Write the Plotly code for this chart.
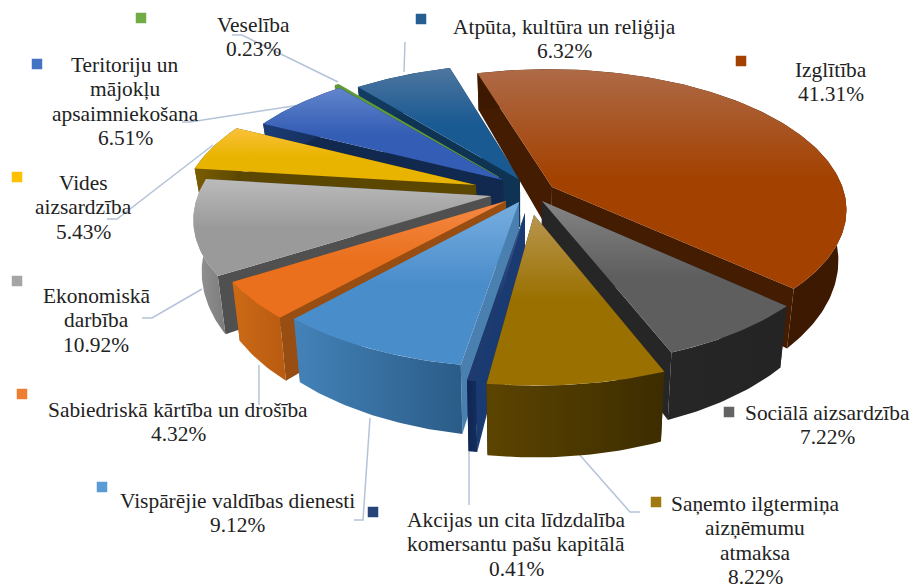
import math
import plotly.graph_objects as go

categories = ["Izglītība", "Sociālā aizsardzība", "Saņemto ilgtermiņa aizņēmumu atmaksa",
              "Akcijas un cita līdzdalība komersantu pašu kapitālā", "Vispārējie valdības dienesti",
              "Sabiedriskā kārtība un drošība", "Ekonomiskā darbība", "Vides aizsardzība",
              "Teritoriju un mājokļu apsaimniekošana", "Veselība", "Atpūta, kultūra un reliģija"]
values = [41.31, 7.22, 8.22, 0.41, 9.12, 4.32, 10.92, 5.43, 6.51, 0.23, 6.32]

# styles: top gradient (back, front), radial wall, rim wall gradient (left, right)
top_a = ["#AE6A47", "#858585", "#B8964F", "#44588A", "#78AEE0", "#F48A45", "#BBBBBB", "#FAC23A", "#6285CC", "#8CBF68", "#4E769F"]
top_b = ["#A34100", "#5E5E5E", "#9A7000", "#1E3B70", "#4A8DCB", "#EA701D", "#9A9A9A", "#E9B400", "#345DB5", "#5F9A38", "#1A5A92"]
side = ["#431C02", "#262626", "#2A2A2A", "#1A3A72", "#4A80AF", "#984E12", "#505050", "#5C4700", "#12294F", "#2E5418", "#0F3353"]
rim_a = ["#3C1900", "#262626", "#5C4400", "#0F2550", "#4382B8", "#CC6A16", "#959595", "#7A5D00", "#1C3D78", "#38601F", "#123C62"]
rim_b = ["#3C1900", "#242424", "#3C2C00", "#142E5E", "#2B5C88", "#B85A10", "#7C7C7C", "#5C4700", "#12294F", "#2E5418", "#0F3353"]
outline = [0, 0, 0, 0, 0, 0, 0, 0, 0, 3, 0]
# where each exploded slice's point sits on the page
apex_x = [552, 542, 534, 525, 519, 506, 491, 476, 503, 498, 520]
apex_y = [187, 201, 215, 213, 202, 201, 196, 185, 180, 178, 180]

# pie geometry
start_deg = -16.3
cx, cy, Rx, T, k, D, shrink = 525, 195, 293, 138, 0.152, 49, 0.975

# label text, centred, one line per row
label_lines = [["Izglītība"], ["Sociālā aizsardzība"], ["Saņemto ilgtermiņa", "aizņēmumu", "atmaksa"],
               ["Akcijas un cita līdzdalība", "komersantu pašu kapitālā"], ["Vispārējie valdības dienesti"],
               ["Sabiedriskā kārtība un drošība"], ["Ekonomiskā", "darbība"], ["Vides", "aizsardzība"],
               ["Teritoriju un", "mājokļu", "apsaimniekošana"], ["Veselība"], ["Atpūta, kultūra un reliģija"]]
label_x = [831, 827, 755, 516, 237, 178, 96, 83, 125, 253, 564]
label_y = [70, 413, 504, 520, 501, 410, 296, 183, 65, 25, 27]
row_step = 24.4
key_x = [741, 729, 656, 373, 102, 22, 17, 17, 37, 141, 421]
key_y = [61, 412, 502, 512, 487, 394, 281, 177, 64, 18, 19]
key_color = ["#A34100", "#636363", "#A07A10", "#264478", "#5B9BD5", "#ED7D31", "#A5A5A5", "#FFC000", "#4472C4", "#70AD47", "#255E91"]
leaders = [None, None, [(640, 512), (630, 512), (578, 453)], [(469, 505), (469, 450)],
           [(354, 520), (363, 520), (370, 418)], [(259, 405), (259, 365)],
           [(142, 318), (152, 318), (202, 289)], [(107, 219), (117, 219), (213, 145)],
           [(182, 122), (190, 122), (300, 105)], [(232, 35), (242, 35), (338, 82)], [(405, 42), (404, 72)]]


def unproject(px, py):
    dy = py - cy
    z = dy / (T + k * dy)
    return (px - cx) * (1 - k * z) / Rx, z


def project(x, z, low=False):
    s = 1 / (1 - k * z)
    sx = Rx * x * s
    sy = T * z * s
    if low:
        return cx + sx * shrink, cy + sy + D * s * s
    return cx + sx, cy + sy


def poly(fig, pts, line=None, **kw):
    fig.add_trace(go.Scatter(x=[p[0] for p in pts] + [pts[0][0]], y=[p[1] for p in pts] + [pts[0][1]],
                             mode="lines", line=line or dict(width=0), fill="toself", hoverinfo="skip",
                             showlegend=False, **kw))


def grad(kind, stops):
    return dict(type=kind, colorscale=stops)


total = sum(values)
slices = []
angle = start_deg
for i, v in enumerate(values):
    sweep = 360 * v / total
    slices.append((i, angle, angle + sweep))
    angle += sweep

fig = go.Figure()
for pts in leaders:
    if pts:
        fig.add_trace(go.Scatter(x=[p[0] for p in pts], y=[p[1] for p in pts], mode="lines",
                                 line=dict(color="#B4C3D8", width=1.5), hoverinfo="skip", showlegend=False))

order = sorted(slices, key=lambda t: -math.cos(math.radians((t[1] + t[2]) / 2)))
for i, a0, a1 in order:
    ax, az = unproject(apex_x[i], apex_y[i])
    n = max(2, int(a1 - a0) + 2)
    arc = [(ax + math.sin(math.radians(a0 + (a1 - a0) * j / n)),
            az - math.cos(math.radians(a0 + (a1 - a0) * j / n))) for j in range(n + 1)]
    top = [project(*p) for p in arc]
    low = [project(*p, low=True) for p in arc]
    ap, al = project(ax, az), project(ax, az, low=True)
    poly(fig, [ap, top[0], low[0], al], fillcolor=side[i])
    poly(fig, [ap, top[-1], low[-1], al], fillcolor=side[i])
    poly(fig, top + low[::-1], fillgradient=grad("horizontal", [[0, rim_a[i]], [1, rim_b[i]]]))
    line = dict(width=outline[i], color=top_b[i]) if outline[i] else None
    poly(fig, [ap] + top, line=line,
         fillgradient=grad("vertical", [[0, top_b[i]], [0.5, top_b[i]], [1, top_a[i]]]))

fig.add_trace(go.Scatter(x=key_x, y=key_y, mode="markers", hoverinfo="skip", showlegend=False,
                         marker=dict(symbol="square", size=10.5, color=key_color)))

for i, v in enumerate(values):
    rows = label_lines[i] + [f"{v:.2f}%"]
    for r, text in enumerate(rows):
        fig.add_annotation(x=label_x[i], y=label_y[i] + r * row_step, text=text, showarrow=False,
                           xanchor="center", yanchor="middle", align="center",
                           font=dict(family="Liberation Serif", size=21.4, color="#222222"))

fig.update_layout(width=911, height=584, margin=dict(l=0, r=0, t=0, b=0), paper_bgcolor="white",
                  plot_bgcolor="white",
                  xaxis=dict(visible=False, range=[0, 911], fixedrange=True),
                  yaxis=dict(visible=False, range=[584, 0], fixedrange=True))
fig.write_html("out.html", post_script="document.body.style.margin='0';document.body.style.overflow='hidden';",
               config={"displayModeBar": False})
